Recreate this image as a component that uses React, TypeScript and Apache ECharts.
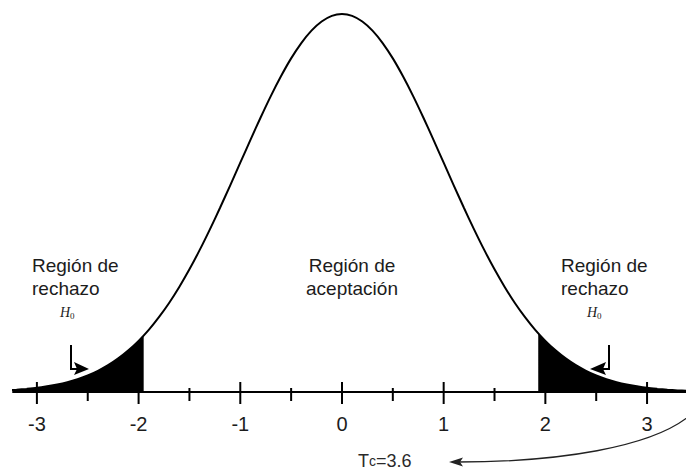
import React, { useEffect, useRef } from "react";
import * as echarts from "echarts";

// Standard normal curve (x in standard units, y = density)
const curveX = [
  -3.4, -3.3, -3.2, -3.1, -3.0, -2.9, -2.8, -2.7, -2.6, -2.5, -2.4, -2.3, -2.2, -2.1, -2.0,
  -1.9, -1.8, -1.7, -1.6, -1.5, -1.4, -1.3, -1.2, -1.1, -1.0, -0.9, -0.8, -0.7, -0.6, -0.5,
  -0.4, -0.3, -0.2, -0.1, 0.0, 0.1, 0.2, 0.3, 0.4, 0.5, 0.6, 0.7, 0.8, 0.9, 1.0,
  1.1, 1.2, 1.3, 1.4, 1.5, 1.6, 1.7, 1.8, 1.9, 2.0, 2.1, 2.2, 2.3, 2.4, 2.5,
  2.6, 2.7, 2.8, 2.9, 3.0, 3.1, 3.2, 3.3, 3.4,
];
const curveY = [
  0.0012, 0.0017, 0.0024, 0.0033, 0.0044, 0.006, 0.0079, 0.0104, 0.0136, 0.0175, 0.0224, 0.0283, 0.0355, 0.044, 0.054,
  0.0656, 0.079, 0.094, 0.1109, 0.1295, 0.1497, 0.1714, 0.1942, 0.2179, 0.242, 0.2661, 0.2897, 0.3123, 0.3332, 0.3521,
  0.3683, 0.3814, 0.391, 0.397, 0.3989, 0.397, 0.391, 0.3814, 0.3683, 0.3521, 0.3332, 0.3123, 0.2897, 0.2661, 0.242,
  0.2179, 0.1942, 0.1714, 0.1497, 0.1295, 0.1109, 0.094, 0.079, 0.0656, 0.054, 0.044, 0.0355, 0.0283, 0.0224, 0.0175,
  0.0136, 0.0104, 0.0079, 0.006, 0.0044, 0.0033, 0.0024, 0.0017, 0.0012,
];

// Rejection regions (shaded tails)
const leftTailX = [-3.4, -3.3, -3.2, -3.1, -3.0, -2.9, -2.8, -2.7, -2.6, -2.5, -2.4, -2.3, -2.2, -2.1, -2.0, -1.95];
const leftTailY = [0.0012, 0.0017, 0.0024, 0.0033, 0.0044, 0.006, 0.0079, 0.0104, 0.0136, 0.0175, 0.0224, 0.0283, 0.0355, 0.044, 0.054, 0.0596];
const rightTailX = [1.93, 2.0, 2.1, 2.2, 2.3, 2.4, 2.5, 2.6, 2.7, 2.8, 2.9, 3.0, 3.1, 3.2, 3.3, 3.4];
const rightTailY = [0.062, 0.054, 0.044, 0.0355, 0.0283, 0.0224, 0.0175, 0.0136, 0.0104, 0.0079, 0.006, 0.0044, 0.0033, 0.0024, 0.0017, 0.0012];

const majorTicks = [-3, -2, -1, 0, 1, 2, 3];
const minorTicks = [-2.5, -1.5, -0.5, 0.5, 1.5, 2.5];
const tickLabels = ["-3", "-2", "-1", "0", "1", "2", "3"];

const FONT = '"Liberation Sans", Arial, Helvetica, sans-serif';
const SERIF = '"Liberation Serif", "Times New Roman", serif';
const INK = "#1c1c1c";

const zip = (xs: number[], ys: number[]) => xs.map((x, i) => [x, ys[i]]);

export default function App() {
  const ref = useRef<HTMLDivElement>(null);

  useEffect(() => {
    if (!ref.current) return;
    const chart = echarts.init(ref.current, undefined, { renderer: "svg" });

    const tickData = [
      ...majorTicks.map((v) => [v, 1]),
      ...minorTicks.map((v) => [v, 0]),
    ];

    const textStyleBlock = {
      fontFamily: FONT,
      fontSize: 19,
      lineHeight: 23,
      fill: INK,
    };

    const h0 = (x: number, y: number) => ({
      type: "text",
      x,
      y,
      style: {
        text: "{h|H}{s|0}",
        rich: {
          h: { fontFamily: SERIF, fontStyle: "italic", fontSize: 14, fill: INK, color: INK },
          s: { fontFamily: SERIF, fontSize: 9, fill: INK, color: INK, verticalAlign: "bottom", padding: [6, 0, 0, 0] },
        },
        verticalAlign: "top",
      },
    });

    chart.setOption({
      animation: false,
      backgroundColor: "#ffffff",
      grid: { left: 13, right: 0, top: 13, bottom: 80 },
      xAxis: {
        type: "value",
        min: -3.235,
        max: 3.383,
        axisLine: { lineStyle: { color: "#000", width: 2 } },
        axisTick: { show: false },
        splitLine: { show: false },
        axisLabel: {
          customValues: majorTicks,
          formatter: (v: number) => tickLabels[majorTicks.indexOf(v)] ?? String(v),
          fontFamily: FONT,
          fontSize: 20,
          color: INK,
          margin: 22,
        },
      },
      yAxis: { type: "value", min: 0, max: 0.4, show: false },
      series: [
        {
          type: "line",
          data: zip(leftTailX, leftTailY),
          symbol: "none",
          smooth: 0.3,
          lineStyle: { width: 0 },
          areaStyle: { color: "#000", opacity: 1 },
          z: 1,
        },
        {
          type: "line",
          data: zip(rightTailX, rightTailY),
          symbol: "none",
          smooth: 0.3,
          lineStyle: { width: 0 },
          areaStyle: { color: "#000", opacity: 1 },
          z: 1,
        },
        {
          type: "line",
          data: zip(curveX, curveY),
          symbol: "none",
          smooth: 0.3,
          lineStyle: { color: "#000", width: 2 },
          z: 2,
        },
        {
          type: "custom",
          data: tickData,
          z: 3,
          renderItem: (params: any, api: any) => {
            const v = api.value(0);
            const major = api.value(1) === 1;
            const p = api.coord([v, 0]);
            return {
              type: "line",
              shape: { x1: p[0], y1: p[1] - (major ? 10 : 4), x2: p[0], y2: p[1] + (major ? 12 : 9) },
              style: { stroke: "#000", lineWidth: 2 },
            };
          },
        },
      ],
      graphic: [
        { type: "text", x: 32, y: 253.5, style: { ...textStyleBlock, text: "Región de\nrechazo", align: "left", verticalAlign: "top" } },
        { type: "text", x: 352, y: 253.5, style: { ...textStyleBlock, text: "Región de\naceptación", align: "center", verticalAlign: "top" } },
        { type: "text", x: 561, y: 253.5, style: { ...textStyleBlock, text: "Región de\nrechazo", align: "left", verticalAlign: "top" } },
        h0(60, 305),
        h0(587, 305),
        // left arrow
        { type: "polyline", shape: { points: [[71, 345], [71, 369], [78, 369]] }, style: { stroke: "#000", lineWidth: 2, fill: null } },
        { type: "polygon", shape: { points: [[74, 362], [89, 369], [74, 375], [77, 369]] }, style: { fill: "#000" } },
        // right arrow
        { type: "polyline", shape: { points: [[609, 345], [609, 369], [602, 369]] }, style: { stroke: "#000", lineWidth: 2, fill: null } },
        { type: "polygon", shape: { points: [[606, 362], [590, 369], [606, 375], [603, 369]] }, style: { fill: "#000" } },
        // Tc label
        {
          type: "text",
          x: 358,
          y: 470,
          style: {
            text: "{a|T}{b|c}{a|=3.6}",
            verticalAlign: "bottom",
            rich: {
              a: { fontFamily: FONT, fontSize: 18, fill: "#2a2a2a", color: "#2a2a2a" },
              b: { fontFamily: FONT, fontSize: 14, fill: "#2a2a2a", color: "#2a2a2a" },
            },
          },
        },
        // curved arrow
        {
          type: "bezierCurve",
          shape: { x1: 688, y1: 417, cpx1: 650, cpy1: 447, cpx2: 560, cpy2: 462, x2: 458, y2: 462 },
          style: { stroke: "#222", lineWidth: 1.3, fill: null },
        },
        { type: "polygon", shape: { points: [[449, 462], [463, 457.5], [460, 462], [463, 466.5]] }, style: { fill: "#222" } },
      ],
    });

    return () => chart.dispose();
  }, []);

  return (
    <div
      ref={ref}
      style={{ position: "absolute", left: 0, top: 0, width: 686, height: 472, background: "#fff" }}
    />
  );
}
